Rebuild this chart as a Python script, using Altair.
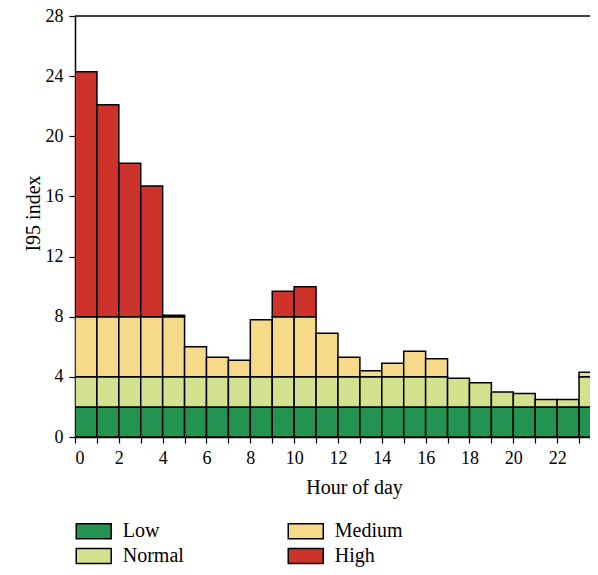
import altair as alt
import pandas as pd

hours = list(range(24))
low = [2.0] * 24
normal = [2.0] * 17 + [1.9, 1.6, 1.0, 0.9, 0.5, 0.5, 2.0]
medium = [4.0, 4.0, 4.0, 4.0, 4.0, 2.0, 1.3, 1.1, 3.8, 4.0, 4.0, 2.9, 1.3, 0.4,
          0.9, 1.7, 1.2, 0.0, 0.0, 0.0, 0.0, 0.0, 0.0, 0.3]
high = [16.3, 14.1, 10.2, 8.7, 0.1, 0.0, 0.0, 0.0, 0.0, 1.7, 2.0, 0.0, 0.0, 0.0,
        0.0, 0.0, 0.0, 0.0, 0.0, 0.0, 0.0, 0.0, 0.0, 0.0]

levels = ["Low", "Normal", "Medium", "High"]
colors = {"Low": "#229350", "Normal": "#d4e18f", "Medium": "#f6da8a", "High": "#cd332b"}
y_max = 28
x_visible_max = 23.5

rows = []
for i, h in enumerate(hours):
    for k, (name, arr) in enumerate(zip(levels, [low, normal, medium, high])):
        if arr[i] > 0:
            rows.append({"hour": h, "hour_end": h + 1, "level": name,
                         "value": arr[i], "ord": k})
df = pd.DataFrame(rows)

font = "Liberation Serif"

x_scale = alt.Scale(domain=[0, x_visible_max], nice=False, zero=False)
y_scale = alt.Scale(domain=[0, y_max], nice=False)

bars = alt.Chart(df).transform_stack(
    stack="value", groupby=["hour"], as_=["y0", "y1"],
    sort=[alt.SortField("ord", order="ascending")]
).mark_bar(stroke="black", strokeWidth=1.5, opacity=1, clip=True).encode(
    x=alt.X("hour:Q", scale=x_scale,
            axis=alt.Axis(title="Hour of day", values=list(range(24)),
                          labelExpr="datum.value % 2 == 0 ? datum.label : ''",
                          grid=False, titleX=279, titlePadding=10, labelPadding=6)),
    x2="hour_end:Q",
    y=alt.Y("y0:Q", scale=y_scale,
            axis=alt.Axis(title="I95 index", values=list(range(0, 29, 4)),
                          grid=False, titlePadding=2, labelPadding=6, titleY=197)),
    y2="y1:Q",
    color=alt.Color("level:N",
                    scale=alt.Scale(domain=levels,
                                    range=[colors[l] for l in levels]),
                    legend=alt.Legend(title=None, orient="none", legendX=8.75, legendY=505,
                                      columns=2, columnPadding=100, rowPadding=3,
                                      symbolType="M-2,-0.86H2V0.86H-2Z", symbolSize=306,
                                      symbolStrokeColor="black", symbolStrokeWidth=1.5,
                                      symbolOpacity=1, labelFont=font, labelFontSize=20,
                                      labelOffset=19, labelColor="black")),
)

top_line = alt.Chart(pd.DataFrame({"v": [y_max]})).mark_rule(
    color="black", strokeWidth=1.5
).encode(y=alt.Y("v:Q", scale=y_scale))

chart = alt.layer(bars, top_line).properties(
    width=515, height=421,
    autosize=alt.AutoSizeParams(type="none"),
    padding={"left": 67, "top": 8, "right": 0, "bottom": 130},
).configure_view(
    stroke=None
).configure_axis(
    labelFont=font, titleFont=font, labelFontSize=18, titleFontSize=20,
    titleFontWeight="normal", labelColor="black", titleColor="black",
    domainColor="black", tickColor="black", domainWidth=1.5, tickWidth=1.2,
    tickSize=6
)

chart.save("out.html", embed_options={"renderer": "svg", "actions": False})
